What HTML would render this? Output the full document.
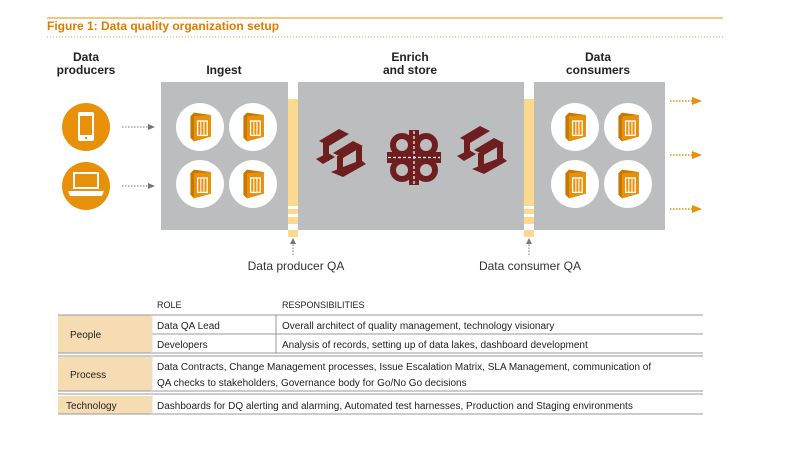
<!DOCTYPE html>
<html><head><meta charset="utf-8"><style>
body{margin:0;background:#fff;width:790px;height:447px;overflow:hidden;font-family:"Liberation Sans",sans-serif}
</style></head><body>
<svg width="790" height="447" viewBox="0 0 790 447" xmlns="http://www.w3.org/2000/svg" font-family="Liberation Sans, sans-serif">
<defs>
<g id="box">
<circle r="24" fill="#fff"/>
<g transform="scale(1.2)">
<polygon points="-8,-9 -5,-12 9,-10 9,8 -5,12 -8,9" fill="#c87800"/>
<polygon points="-5,-9 9,-10 9,8 -5,12" fill="#e8900a"/>
<rect x="-2" y="-5" width="8" height="12" fill="none" stroke="#fff" stroke-width="1.1"/>
<line x1="0.7" y1="-5" x2="0.7" y2="7" stroke="#fff" stroke-width="0.9"/>
<line x1="3.3" y1="-5" x2="3.3" y2="7" stroke="#fff" stroke-width="0.9"/>
</g>
</g>
<g id="beam" fill="#6e1e1e">
<polygon points="0,12 20,0 30,5 10,17"/>
<rect x="4" y="14" width="6" height="18"/>
<polygon points="-3,30 9,24 16,28 4,35"/>
<polygon points="14,24 34,12 44,17 24,29"/>
<rect x="18" y="27" width="6" height="18"/>
<rect x="37" y="18" width="6" height="18"/>
<polygon points="12,43 24,38 42,31 47,35 24,48"/>
</g>
</defs>
<line x1="47" y1="18" x2="723" y2="18" stroke="#e8900a" stroke-width="1"/>
<text x="47" y="30" font-size="12" font-weight="bold" fill="#e07b00">Figure 1: Data quality organization setup</text>
<line x1="47" y1="37" x2="723" y2="37" stroke="#e8a040" stroke-width="1" stroke-dasharray="1,2"/>
<g font-size="12" font-weight="bold" fill="#222" text-anchor="middle">
<text x="86" y="61">Data</text><text x="86" y="74">producers</text>
<text x="224" y="74">Ingest</text>
<text x="410" y="61">Enrich</text><text x="410" y="74">and store</text>
<text x="598" y="61">Data</text><text x="598" y="74">consumers</text>
</g>
<rect x="161" y="82" width="127" height="148" fill="#bcbdbf"/>
<rect x="298" y="82" width="226" height="148" fill="#bcbdbf"/>
<rect x="534" y="82" width="131" height="148" fill="#bcbdbf"/>
<g fill="#fbd98f">
<rect x="288" y="99" width="10" height="138"/>
<rect x="524" y="99" width="10" height="138"/>
</g>
<g fill="#fff">
<rect x="288" y="206" width="10" height="3"/><rect x="288" y="214" width="10" height="3"/><rect x="288" y="224" width="10" height="6"/>
<rect x="524" y="206" width="10" height="3"/><rect x="524" y="214" width="10" height="3"/><rect x="524" y="224" width="10" height="6"/>
</g>
<use href="#box" x="200" y="127"/><use href="#box" x="253" y="127"/>
<use href="#box" x="200" y="184"/><use href="#box" x="253" y="184"/>
<use href="#box" x="575" y="127"/><use href="#box" x="628" y="127"/>
<use href="#box" x="575" y="184"/><use href="#box" x="628" y="184"/>
<circle cx="86" cy="127" r="24" fill="#e8900a"/>
<rect x="78" y="112" width="16" height="29" rx="2" fill="#fff"/>
<rect x="80" y="116" width="12" height="19" fill="#e8900a"/>
<circle cx="86" cy="138" r="1.2" fill="#e8900a"/>
<circle cx="86" cy="186" r="24" fill="#e8900a"/>
<rect x="73" y="172" width="26" height="17" fill="#fff"/>
<rect x="75" y="174" width="22" height="13" fill="#e8900a"/>
<polygon points="68,191 104,191 102,196 70,196" fill="#fff"/>
<g stroke="#777" stroke-width="1" stroke-dasharray="1.5,1.5">
<line x1="122" y1="127" x2="148" y2="127"/><line x1="122" y1="186" x2="148" y2="186"/>
<line x1="293" y1="255" x2="293" y2="244"/><line x1="529" y1="255" x2="529" y2="244"/>
</g>
<g fill="#777">
<polygon points="148,124 155,127 148,130"/><polygon points="148,183 155,186 148,189"/>
<polygon points="290,244 293,238 296,244"/><polygon points="526,244 529,238 532,244"/>
</g>
<g stroke="#e8900a" stroke-width="1.5" stroke-dasharray="1.5,1.5">
<line x1="670" y1="101" x2="692" y2="101"/><line x1="670" y1="155" x2="692" y2="155"/><line x1="670" y1="209" x2="692" y2="209"/>
</g>
<g fill="#e8900a">
<polygon points="692,97 702,101 692,105"/><polygon points="692,151 702,155 692,159"/><polygon points="692,205 702,209 692,213"/>
</g>
<use href="#beam" x="319" y="129"/>
<use href="#beam" x="460" y="126"/>
<g fill="none" stroke="#6e1e1e" stroke-width="6">
<circle cx="402" cy="145" r="9"/><circle cx="426" cy="145" r="9"/>
<circle cx="402" cy="170" r="9"/><circle cx="426" cy="170" r="9"/>
</g>
<rect x="409" y="130" width="10" height="55" fill="#6e1e1e"/>
<rect x="387" y="152" width="54" height="11" fill="#6e1e1e"/>
<g stroke="#fff" stroke-width="1.2" stroke-dasharray="3,2">
<line x1="388" y1="157.5" x2="440" y2="157.5"/><line x1="414" y1="131" x2="414" y2="184"/>
</g>
<g font-size="12" fill="#333" text-anchor="middle">
<text x="296" y="270">Data producer QA</text>
<text x="530" y="270">Data consumer QA</text>
</g>
<g font-size="9" fill="#222">
<text x="157" y="308">ROLE</text><text x="282" y="308">RESPONSIBILITIES</text>
</g>
<g fill="#f6dcb3">
<rect x="58" y="315" width="94" height="38"/>
<rect x="58" y="357" width="94" height="34"/>
<rect x="58" y="396" width="94" height="18"/>
</g>
<g stroke="#999" stroke-width="1">
<line x1="58" y1="315" x2="703" y2="315"/>
<line x1="152" y1="334" x2="703" y2="334"/>
<line x1="58" y1="353" x2="703" y2="353"/><line x1="58" y1="356" x2="703" y2="356"/>
<line x1="58" y1="391" x2="703" y2="391"/><line x1="58" y1="394" x2="703" y2="394"/>
<line x1="58" y1="414" x2="703" y2="414"/>
<line x1="276" y1="315" x2="276" y2="353"/>
<line x1="152" y1="315" x2="152" y2="414" stroke="#ddd"/>
</g>
<g font-size="10" fill="#222">
<text x="70" y="338">People</text>
<text x="70" y="378">Process</text>
<text x="66" y="409">Technology</text>
<text x="157" y="329">Data QA Lead</text>
<text x="157" y="348">Developers</text>
<text x="282" y="329">Overall architect of quality management, technology visionary</text>
<text x="282" y="348">Analysis of records, setting up of data lakes, dashboard development</text>
<text x="157" y="370">Data Contracts, Change Management processes, Issue Escalation Matrix, SLA Management, communication of</text>
<text x="157" y="386">QA checks to stakeholders, Governance body for Go/No Go decisions</text>
<text x="157" y="409">Dashboards for DQ alerting and alarming, Automated test harnesses, Production and Staging environments</text>
</g>
</svg>
</body></html>
